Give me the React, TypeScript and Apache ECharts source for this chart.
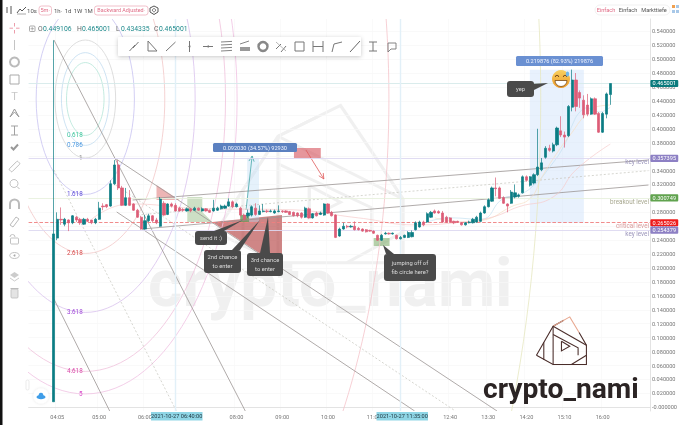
import React, { useEffect, useRef } from "react";
import * as echarts from "echarts";

const opens = [0.008,0.243,0.270,0.263,0.269,0.265,0.273,0.270,0.263,0.270,0.269,0.265,0.270,0.289,0.291,0.289,0.321,0.348,0.315,0.290,0.301,0.292,0.283,0.273,0.256,0.268,0.275,0.269,0.260,0.293,0.277,0.292,0.290,0.286,0.284,0.282,0.285,0.283,0.286,0.282,0.285,0.283,0.282,0.283,0.285,0.286,0.289,0.295,0.288,0.286,0.276,0.275,0.276,0.286,0.277,0.281,0.282,0.281,0.279,0.281,0.282,0.282,0.281,0.280,0.279,0.279,0.273,0.285,0.272,0.279,0.277,0.276,0.292,0.280,0.276,0.246,0.256,0.260,0.259,0.260,0.257,0.256,0.255,0.254,0.253,0.247,0.240,0.249,0.250,0.249,0.247,0.242,0.244,0.244,0.245,0.255,0.259,0.266,0.266,0.273,0.282,0.281,0.279,0.273,0.272,0.267,0.267,0.265,0.262,0.265,0.265,0.266,0.267,0.279,0.288,0.296,0.315,0.315,0.301,0.292,0.293,0.302,0.303,0.308,0.331,0.319,0.322,0.334,0.341,0.359,0.372,0.368,0.377,0.397,0.391,0.390,0.431,0.470,0.452,0.441,0.434,0.421,0.443,0.422,0.395,0.421,0.449106];
const closes = [0.249,0.270,0.269,0.270,0.265,0.275,0.269,0.265,0.270,0.267,0.265,0.270,0.286,0.288,0.288,0.321,0.348,0.315,0.290,0.301,0.290,0.283,0.273,0.256,0.268,0.275,0.268,0.265,0.299,0.276,0.292,0.289,0.282,0.282,0.283,0.285,0.282,0.286,0.283,0.285,0.282,0.280,0.286,0.286,0.289,0.289,0.295,0.288,0.292,0.276,0.270,0.279,0.288,0.277,0.282,0.282,0.281,0.282,0.282,0.282,0.281,0.280,0.277,0.275,0.275,0.273,0.286,0.272,0.278,0.275,0.279,0.292,0.279,0.275,0.244,0.256,0.260,0.259,0.260,0.255,0.255,0.253,0.252,0.253,0.250,0.240,0.247,0.250,0.249,0.250,0.242,0.244,0.247,0.251,0.251,0.265,0.266,0.262,0.278,0.280,0.279,0.279,0.266,0.266,0.266,0.265,0.266,0.262,0.265,0.266,0.270,0.273,0.279,0.288,0.298,0.315,0.314,0.300,0.293,0.289,0.309,0.308,0.305,0.331,0.326,0.331,0.334,0.345,0.351,0.372,0.369,0.377,0.401,0.391,0.388,0.432,0.470,0.432,0.444,0.420,0.421,0.443,0.421,0.395,0.422,0.450,0.465001];
const lows = [0.008,0.240,0.262,0.260,0.253,0.263,0.266,0.262,0.262,0.266,0.263,0.263,0.269,0.283,0.286,0.288,0.319,0.312,0.289,0.289,0.289,0.282,0.272,0.255,0.255,0.266,0.265,0.263,0.259,0.275,0.276,0.287,0.281,0.281,0.281,0.281,0.280,0.282,0.282,0.281,0.281,0.279,0.281,0.282,0.284,0.285,0.288,0.286,0.287,0.274,0.268,0.272,0.274,0.275,0.276,0.280,0.279,0.280,0.278,0.280,0.279,0.279,0.276,0.274,0.273,0.271,0.272,0.271,0.271,0.274,0.276,0.275,0.278,0.274,0.243,0.245,0.255,0.257,0.258,0.254,0.254,0.252,0.251,0.252,0.249,0.239,0.239,0.248,0.248,0.248,0.241,0.241,0.243,0.243,0.244,0.254,0.258,0.260,0.265,0.272,0.278,0.278,0.265,0.265,0.265,0.263,0.265,0.261,0.261,0.264,0.264,0.265,0.266,0.278,0.287,0.295,0.303,0.299,0.292,0.280,0.292,0.300,0.301,0.307,0.324,0.317,0.320,0.332,0.339,0.357,0.367,0.366,0.375,0.388,0.373,0.388,0.425,0.425,0.430,0.415,0.418,0.420,0.420,0.394,0.394,0.415,0.434335];
const highs = [0.527,0.280,0.287,0.272,0.270,0.276,0.275,0.272,0.272,0.272,0.269,0.272,0.295,0.293,0.292,0.326,0.355,0.355,0.318,0.315,0.312,0.293,0.285,0.275,0.276,0.278,0.276,0.272,0.302,0.296,0.293,0.294,0.293,0.288,0.286,0.287,0.286,0.288,0.287,0.287,0.286,0.284,0.298,0.288,0.291,0.291,0.300,0.297,0.294,0.288,0.278,0.284,0.290,0.293,0.290,0.292,0.284,0.284,0.284,0.290,0.283,0.283,0.282,0.281,0.280,0.280,0.288,0.287,0.279,0.281,0.281,0.293,0.293,0.282,0.277,0.258,0.265,0.262,0.262,0.267,0.259,0.257,0.256,0.255,0.254,0.248,0.249,0.252,0.251,0.251,0.248,0.246,0.248,0.253,0.254,0.267,0.268,0.268,0.280,0.282,0.284,0.283,0.282,0.275,0.273,0.268,0.268,0.266,0.266,0.268,0.272,0.275,0.281,0.290,0.300,0.317,0.330,0.317,0.303,0.293,0.312,0.320,0.307,0.333,0.333,0.332,0.336,0.400,0.358,0.375,0.377,0.380,0.403,0.418,0.396,0.434,0.485,0.480,0.455,0.448,0.450,0.445,0.445,0.424,0.424,0.452,0.465001];

const padBefore = 6;
const slotCount = 163;
const shownTimes = ["04:05","05:00","06:00","08:00","09:00","10:00","11:00","12:40","13:30","14:20","15:10","16:00"];
const yTicks = [0,0.02,0.04,0.06,0.08,0.10,0.12,0.14,0.16,0.18,0.20,0.22,0.24,0.26,0.28,0.30,0.32,0.34,0.36,0.38,0.40,0.42,0.44,0.46,0.48,0.50,0.52,0.54];

// faint moving averages, read as [candle number, price]
const maBlue = [[96,0.262],[104,0.272],[112,0.270],[118,0.300],[122,0.305],[126,0.319],[130,0.344],[134,0.377],[136,0.405],[138,0.424],[140,0.430],[143,0.424],[146,0.431]];
const maOrange = [[100,0.272],[108,0.266],[113,0.269],[120,0.288],[125,0.300],[128,0.330],[132,0.365],[136,0.395],[139,0.417],[142,0.431],[146,0.434]];
const maPink = [[10,0.270],[20,0.292],[40,0.285],[60,0.284],[80,0.272],[95,0.262],[107,0.266],[115,0.273],[122,0.288],[131,0.302],[137,0.341],[146,0.378]];

const priceLevels = [
  { value: 0.465001, line: "#d6eaea", tag: "#0b7b7d", type: "solid" },
  { value: 0.357395, line: "#ddd8f0", tag: "#8d80c4", type: "solid" },
  { value: 0.300749, line: "#e8f0de", tag: "#61a34f", type: "solid" },
  { value: 0.265026, line: "#ef7f7f", tag: "#ee1c1c", type: "dashed" },
  { value: 0.254379, line: "#ddd8f0", tag: "#8d80c4", type: "solid" },
];
const markedTimes = ["06:40", "11:35"];

// Fibonacci circles: ratio and colour, on one anchor (slot, price) and unit radii (slots, price)
const fibCentre = [14.36, 0.4427];
const fibUnit = [7.96, 0.0847];
const fibRings = [
  { ratio: 0.618, color: "#b5e6d8", text: "0.618", textColor: "#38c49a" },
  { ratio: 0.786, color: "#c2dcf0", text: "0.786", textColor: "#4a98e0" },
  { ratio: 1, color: "#d6d6d6", text: "1", textColor: "#888888" },
  { ratio: 1.618, color: "#c8c3f1", text: "1.618", textColor: "#5a48d8" },
  { ratio: 2.618, color: "#f2c8c8", text: "2.618", textColor: "#d84848" },
  { ratio: 3.618, color: "#d9c2ee", text: "3.618", textColor: "#a048d8" },
  { ratio: 4.618, color: "#f0c2dc", text: "4.618", textColor: "#d848a8" },
  { ratio: 5, color: "#f0c2e2", text: "5", textColor: "#d848c8" },
  { ratio: 10, color: "#f5c4ca", text: "", textColor: "" },
  { ratio: 15, color: "#e6e7c0", text: "", textColor: "" },
];

// drawn tools: [slot, price, slot, price]
const solidTrends = [
  [6.14,0.5275,56.3,-0.0053],
  [6.14,0.1555,20.76,-0.0053],
  [22.06,0.358,122.3,-0.0053],
  [22.6,0.2805,100.7,-0.0053],
  [26.76,0.2977,162,0.3551],
  [29.4,0.2561,162,0.3192],
];
const dottedTrends = [
  [22.3,0.3192,111.4,-0.0053],
  [6.14,0.3408,38.25,-0.0053],
  [28.06,0.2762,162,0.3398],
];
const areas = [
  { pts: [[33.03,0.3192],[33.03,0.2977],[39.03,0.2977]], fill: "rgba(214,90,90,0.45)" },
  { pts: [[41.1,0.302],[45.04,0.302],[45.04,0.2805],[47.65,0.2661],[41.1,0.2661]], fill: "rgba(130,175,110,0.4)" },
  { pts: [[47.65,0.2661],[65.93,0.2762],[65.93,0.2001]], fill: "rgba(178,60,60,0.62)" },
  { pts: [[69.06,0.3724],[76.1,0.3724],[76.1,0.358],[69.06,0.358]], fill: "rgba(214,80,90,0.6)" },
  { pts: [[56.8,0.3582],[59.9,0.3582],[59.9,0.2662],[56.8,0.2662]], fill: "rgba(190,220,245,0.4)" },
  { pts: [[130.9,0.4849],[145.07,0.4849],[145.07,0.2651],[130.9,0.2651]], fill: "rgba(205,225,250,0.45)" },
  { pts: [[89.95,0.2431],[94.13,0.2431],[94.13,0.2316],[89.95,0.2316]], fill: "rgba(120,170,100,0.55)" },
  { pts: [[54.97,0.2762],[57.3,0.2762],[57.3,0.2661],[54.97,0.2661]], fill: "rgba(110,150,90,0.8)" },
];
const arrows = [
  { from: [56.5,0.2833], to: [58.1,0.3609], color: "#46a8a8" },
  { from: [72.2,0.3695], to: [76.9,0.3279], color: "#e05a5a" },
];

const callouts = [
  { box: [195,231,32,14], tail: [[214,231],[224,231],[243,220]], lines: ["send it :)"] },
  { box: [204,250,37,23], tail: [[232,250],[240,250],[260,220]], lines: ["2nd chance","to enter"] },
  { box: [247,253,36,23], tail: [[260,253],[270,253],[268,217]], lines: ["3rd chance","to enter"] },
  { box: [384,254,52,27], tail: [[386,254],[394,254],[383,245]], lines: ["jumping off of","fib circle here?"] },
  { box: [507,81,27,16], tail: [[530,84],[530,92],[548,83]], lines: ["yep"] },
];
const measureTags = [
  { box: [213,143,84,9], text: "0.092030 (34.57%) 92930", fill: "#5b80c0" },
  { box: [516,56,87,10], text: "0.219876 (82.93%) 219876", fill: "#6a90d2" },
];
const levelTexts = [
  { text: "key level", y: 162, color: "#9a94ba" },
  { text: "breakout level", y: 202, color: "#a8a890" },
  { text: "critical level", y: 226, color: "#d89a9a" },
  { text: "key level", y: 234, color: "#9a94ba" },
];
const FONT = "Roboto";

const logoStrokes = [
  { c: "#4a2d2a", p: [[590,430],[640,343],[672,325]] },
  { c: "#e8a890", p: [[640,343],[690,315],[718,362]] },
  { c: "#4a2d2a", p: [[718,362],[740,400],[740,458],[640,458],[590,430]] },
  { c: "#4a2d2a", p: [[640,343],[640,458]] },
  { c: "#4a2d2a", p: [[612,392],[612,444]] },
  { c: "#4a2d2a", p: [[640,343],[740,400]] },
  { c: "#4a2d2a", p: [[640,368],[715,408],[715,430]] },
  { c: "#4a2d2a", p: [[740,430],[695,458]] },
  { c: "#4a2d2a", p: [[665,388],[690,403],[665,417],[665,388]] },
];

function pl(points: number[][], stroke: string, lineWidth = 1, extra: any = {}) {
  return { type: "polyline", shape: { points }, style: { stroke, lineWidth, fill: "none" }, silent: true, ...extra };
}
function tx(text: string, x: number, y: number, size: number, fill: string, align = "center", extra: any = {}, weight = "normal") {
  return {
    type: "text", x, y, silent: true, ...extra,
    style: { text, fill, fontSize: size, fontFamily: FONT, fontWeight: weight, align, verticalAlign: "middle" },
  };
}
function logoGroup(x: number, y: number, sx: number, sy: number, color: string | null, lw: number, z: number) {
  return {
    type: "group", x, y, scaleX: sx, scaleY: sy, z, silent: true,
    children: logoStrokes.map((s) => pl(s.p, color || s.c, lw, { z })),
  };
}

function chromeElements() {
  const g = "#999999";
  const els: any[] = [];
  const T = 100;
  const add = (e: any) => els.push({ z: T, ...e });
  // window edge
  add({ type: "rect", shape: { x: 0, y: 0, width: 2.5, height: 425 }, style: { fill: "#111111" }, silent: true });
  // header
  add(pl([[7,7],[7,13]], "#555", 1)); add(pl([[11,6],[11,14]], "#555", 1));
  add(pl([[17,13],[20,9],[22,11],[26,7]], "#555", 1)); add(pl([[17,14],[26,14]], "#aaa", 1));
  add(tx("10s", 32, 10, 6, "#555")); 
  add({ type: "rect", shape: { x: 39, y: 6, width: 12.5, height: 9, r: 2.5 }, style: { fill: "#fff", stroke: "#eeb0bc", lineWidth: 0.8 } });
  add(tx("5m·", 45.2, 10, 5.6, "#e06b85"));
  add(tx("1h·", 58, 10, 6, "#555")); add(tx("1d", 68, 10, 6, "#555")); add(tx("1W", 78, 10, 6, "#555")); add(tx("1M", 88.5, 10, 6, "#555"));
  add({ type: "rect", shape: { x: 94.5, y: 6, width: 53.5, height: 9, r: 2.5 }, style: { fill: "#fff", stroke: "#eeb0bc", lineWidth: 0.8 } });
  add(tx("Backward Adjusted·", 121.2, 10, 5.4, "#e06b85"));
  add({ type: "polygon", shape: { points: [[150,8],[154,6],[158,8],[158,12],[154,14.5],[150,12]] }, style: { fill: "none", stroke: "#555", lineWidth: 1 } });
  add({ type: "circle", shape: { cx: 154, cy: 10.2, r: 1.6 }, style: { fill: "none", stroke: "#555", lineWidth: 0.8 } });
  // top right switch
  add({ type: "rect", shape: { x: 595, y: 5, width: 75, height: 10, r: 5 }, style: { fill: "#fff", stroke: "#eeeeee", lineWidth: 0.8 } });
  add(tx("Einfach", 606, 9.6, 5.6, "#e06b85")); add(tx("Einfach", 628, 9.6, 5.6, "#555")); add(tx("Markttiefe", 654, 9.6, 5.6, "#555"));
  add({ type: "rect", shape: { x: 672, y: 5, width: 3, height: 3 }, style: { fill: "#f0a050" } });
  add({ type: "rect", shape: { x: 676, y: 5, width: 3, height: 3 }, style: { fill: "#a8c8e8" } });
  add({ type: "rect", shape: { x: 672, y: 10, width: 3, height: 3 }, style: { fill: "#a8c8e8" } });
  add({ type: "rect", shape: { x: 676, y: 10, width: 3, height: 3 }, style: { fill: "#a8c8e8" } });
  // OHLC line
  add({ type: "rect", shape: { x: 29.5, y: 26, width: 5.5, height: 5.5, r: 1 }, style: { fill: "#fff", stroke: "#888", lineWidth: 0.7 } });
  add(pl([[32.2,27],[32.2,30.5]], "#888", 0.6)); add(pl([[30.5,28.7],[34,28.7]], "#888", 0.6));
  [["O","0.449106",38],["H","0.465001",77],["L","0.434335",116],["C","0.465001",154]].forEach((o: any) => {
    add(tx(o[0], o[2], 28.8, 6.8, "#666", "left"));
    add(tx(o[1], o[2] + 5, 28.8, 6.8, "#1f8a8c", "left"));
  });
  // left tools
  add(pl([[14.5,23],[14.5,26.5]], "#ec9dab", 1)); add(pl([[14.5,30],[14.5,33.5]], "#ec9dab", 1));
  add(pl([[9.5,28.2],[13,28.2]], "#ec9dab", 1)); add(pl([[16,28.2],[19.5,28.2]], "#ec9dab", 1));
  add(pl([[14.5,40],[14.5,50]], "#c4c4c4", 1));
  add({ type: "circle", shape: { cx: 14.5, cy: 62, r: 4.5 }, style: { fill: "none", stroke: "#bbb", lineWidth: 2 } });
  add({ type: "rect", shape: { x: 10, y: 75, width: 9, height: 9 }, style: { fill: "none", stroke: "#aaa", lineWidth: 1 } });
  add(tx("T", 14.5, 96.5, 11, "#c8c8c8"));
  add(pl([[10,117],[14.5,109],[19,117],[14.5,112],[10,117]], g, 1));
  add(pl([[11,126],[18,126]], g, 0.9)); add(pl([[14.5,126],[14.5,135]], g, 0.9)); add(pl([[11,135],[18,135]], g, 0.9));
  add(pl([[11,147],[13.5,149.5],[18,144.5]], "#999", 2));
  add({ type: "rect", x: 14.5, y: 166.5, rotation: Math.PI / 4, originX: 0, originY: 0, shape: { x: -6, y: -2, width: 12, height: 4, r: 1 }, style: { fill: "none", stroke: "#bbb", lineWidth: 0.9 } });
  add({ type: "circle", shape: { cx: 14, cy: 183.5, r: 4 }, style: { fill: "none", stroke: "#bbb", lineWidth: 0.9 } });
  add(pl([[17,186.5],[19.5,189]], "#bbb", 1));
  add({ type: "arc", shape: { cx: 14.5, cy: 204, r: 4.5, startAngle: Math.PI, endAngle: 0, clockwise: true }, style: { fill: "none", stroke: "#bbb", lineWidth: 2 } });
  add(pl([[10,204],[10,209]], "#bbb", 2)); add(pl([[19,204],[19,209]], "#bbb", 2));
  add(pl([[10,225],[16,217],[19,219],[13,227],[10,225]], "#bbb", 1));
  add({ type: "rect", shape: { x: 10.5, y: 238, width: 8, height: 6, r: 1 }, style: { fill: "none", stroke: "#bbb", lineWidth: 0.9 } });
  add({ type: "arc", shape: { cx: 12.5, cy: 237, r: 2.5, startAngle: Math.PI, endAngle: 0, clockwise: true }, style: { fill: "none", stroke: "#bbb", lineWidth: 0.9 } });
  add({ type: "ellipse", shape: { cx: 14.5, cy: 255.5, rx: 4.8, ry: 3 }, style: { fill: "none", stroke: "#bbb", lineWidth: 0.9 } });
  add({ type: "circle", shape: { cx: 14.5, cy: 255.5, r: 1 }, style: { fill: "#aaa" } });
  add({ type: "polygon", shape: { points: [[14.5,272],[19,275],[14.5,278],[10,275]] }, style: { fill: "#ccc" } });
  add(pl([[10,278],[14.5,281],[19,278]], "#ccc", 1));
  add({ type: "rect", shape: { x: 11, y: 289, width: 7, height: 9, r: 1 }, style: { fill: "#e4e4e4", stroke: "#bbb", lineWidth: 0.8 } });
  add(pl([[10.5,288.5],[18.5,288.5]], "#bbb", 1));
  add({ type: "rect", shape: { x: 26, y: 380, width: 3, height: 10, r: 1.5 }, style: { fill: "#fff", stroke: "#ddd", lineWidth: 0.6 } });
  // cloud badge
  add({ type: "circle", shape: { cx: 41, cy: 396, r: 7.5 }, style: { fill: "#fff", shadowBlur: 3, shadowColor: "rgba(0,0,0,0.12)" } });
  add({ type: "ellipse", shape: { cx: 41, cy: 397, rx: 4.5, ry: 2.3 }, style: { fill: "#3f9de8" } });
  add({ type: "circle", shape: { cx: 41, cy: 395, r: 2.3 }, style: { fill: "#3f9de8" } });
  // drawing toolbar
  add({ type: "rect", shape: { x: 118, y: 37, width: 243, height: 19, r: 1 }, style: { fill: "#fff", shadowBlur: 4, shadowColor: "rgba(0,0,0,0.22)", shadowOffsetY: 1 } });
  const c = 46.5;
  add(pl([[129.5,51],[135,45]], "#777", 1)); add(pl([[133,48],[138.5,42]], "#777", 1));
  add(pl([[148,41],[148,51],[157,51],[148,41]], "#777", 1));
  add(pl([[166,51],[175.5,42]], "#777", 1));
  add(pl([[189.5,41],[189.5,52]], "#777", 1)); add({ type: "circle", shape: { cx: 189.5, cy: c, r: 1 }, style: { fill: "#777" } });
  add(pl([[203,c],[213,c]], "#777", 1)); add({ type: "circle", shape: { cx: 208, cy: c, r: 1 }, style: { fill: "#777" } });
  [42,45,48,51].forEach((y) => add(pl([[221,y],[232,y - 0.6]], "#777", 0.9)));
  add(pl([[240,44],[249,41]], "#777", 0.9)); add({ type: "rect", shape: { x: 240, y: 47, width: 10, height: 4 }, style: { fill: "#999" } });
  add({ type: "circle", shape: { cx: 263, cy: c, r: 4.5 }, style: { fill: "none", stroke: "#888", lineWidth: 2.4 } });
  add(pl([[276,49],[281,44]], "#777", 1)); add(pl([[281,52],[286,46]], "#777", 1)); add(pl([[276,42],[286,51]], "#999", 0.7));
  add({ type: "rect", shape: { x: 295, y: 42, width: 9, height: 9 }, style: { fill: "none", stroke: "#777", lineWidth: 1 } });
  add(pl([[313,41],[313,52]], "#777", 1)); add(pl([[323,41],[323,52]], "#777", 1)); add(pl([[313,46.5],[323,46.5]], "#777", 1));
  add(pl([[332,52],[334,44],[342,42]], "#777", 1));
  add(pl([[350,52],[360,41]], "#666", 1));
  add(pl([[369,42],[377,42]], "#777", 1)); add(pl([[373,42],[373,51]], "#777", 1)); add(pl([[369,51],[377,51]], "#777", 1));
  add(pl([[388,43],[396,43],[396,49],[391,49],[388,52],[388,43]], "#777", 0.9));
  // date tags
  [[151,414,"2021-10-27 06:40:00"],[376.5,414,"2021-10-27 11:35:00"]].forEach((d: any) => {
    add({ type: "rect", shape: { x: d[0], y: 412, width: 51.5, height: 8.5 }, style: { fill: "#8fd6e6" } });
    add(tx(d[2], d[0] + 25.7, 416.3, 5.6, "#223a44"));
  });
  // measure tags
  measureTags.forEach((m) => {
    add({ type: "rect", shape: { x: m.box[0], y: m.box[1], width: m.box[2], height: m.box[3], r: 1.5 }, style: { fill: m.fill } });
    add(tx(m.text, m.box[0] + m.box[2] / 2, m.box[1] + m.box[3] / 2 + 0.3, 5.6, "#f0f4ff"));
  });
  // callouts
  callouts.forEach((k) => {
    add({ type: "polygon", shape: { points: k.tail }, style: { fill: "#4a4a4a" } });
    add({ type: "rect", shape: { x: k.box[0], y: k.box[1], width: k.box[2], height: k.box[3], r: 3 }, style: { fill: "#4a4a4a" } });
    k.lines.forEach((s, i) => {
      const n = k.lines.length;
      add(tx(s, k.box[0] + k.box[2] / 2, k.box[1] + k.box[3] / 2 + (i - (n - 1) / 2) * 9.7, 5.8, "#dcdcdc"));
    });
  });
  // emoji
  add({ type: "circle", shape: { cx: 561, cy: 79, r: 9 }, style: { fill: new echarts.graphic.LinearGradient(0, 0, 0, 1, [{ offset: 0, color: "#f8d060" }, { offset: 1, color: "#ee9a28" }]) } });
  add({ type: "sector", shape: { cx: 561, cy: 80.5, r: 6, r0: 0, startAngle: 0, endAngle: Math.PI }, style: { fill: "#fff", stroke: "#7a4a18", lineWidth: 0.8 } });
  add({ type: "arc", shape: { cx: 557, cy: 77, r: 1.7, startAngle: Math.PI, endAngle: 0, clockwise: true }, style: { fill: "none", stroke: "#6a4018", lineWidth: 0.9 } });
  add({ type: "arc", shape: { cx: 565, cy: 77, r: 1.7, startAngle: Math.PI, endAngle: 0, clockwise: true }, style: { fill: "none", stroke: "#6a4018", lineWidth: 0.9 } });
  add({ type: "ellipse", shape: { cx: 567.5, cy: 74, rx: 1.7, ry: 2.6 }, style: { fill: "#6fb8ea" } });
  // level names
  levelTexts.forEach((l) => add(tx(l.text, 649, l.y, 6.3, l.color, "right")));
  // brand
  els.push(logoGroup(340, 212, 1 / 3, 1 / 3, null, 3.2, T));
  add(tx("crypto_nami", 483, 388, 28.2, "#2b2424", "left", {}, "bold"));
  // watermark
  els.push(tx("crypto_nami", 148, 283, 66, "#f0f0f0", "left", { z: -1 }, "bold"));
  els.push(logoGroup(-522, -241, 1.25, 1.1, "#f0f0f0", 2.6, -1));
  return els;
}

export default function App() {
  const ref = useRef<HTMLDivElement>(null);
  useEffect(() => {
    document.body.style.margin = "0";
    const chart = echarts.init(ref.current!, null, { renderer: "svg" });

    const categories = Array.from({ length: slotCount }, (_, k) => {
      const m = 3 * 60 + 30 + k * 5;
      return `${String(Math.floor(m / 60)).padStart(2, "0")}:${String(m % 60).padStart(2, "0")}`;
    });
    const candleData = categories.map((_, k) => {
      const i = k - padBefore;
      return i >= 0 && i < opens.length ? [opens[i], closes[i], lows[i], highs[i]] : ["-", "-", "-", "-"];
    });
    const showTime = (_: number, v: string) => shownTimes.includes(v);
    const maSeries = (pts: number[][], color: string) => ({
      type: "line", data: pts.map((p) => [p[0] + padBefore, p[1]]), showSymbol: false, smooth: true, silent: true, z: 1,
      lineStyle: { color, width: 0.7 },
    });

    const renderDrawings = (_: any, api: any) => {
      const x0 = api.coord([0, 0.1])[0];
      const band = api.coord([1, 0.1])[0] - x0;
      const P = (s: number, p: number) => [x0 + band * s, api.coord([0, p])[1]];
      const kids: any[] = [];
      const c = P(fibCentre[0], fibCentre[1]);
      const u = P(fibCentre[0] + fibUnit[0], fibCentre[1] - fibUnit[1]);
      const rxU = u[0] - c[0];
      const ryU = u[1] - c[1];
      areas.forEach((a) => kids.push({ type: "polygon", shape: { points: a.pts.map((q) => P(q[0], q[1])) }, style: { fill: a.fill } }));
      fibRings.forEach((r) => {
        kids.push({ type: "ellipse", shape: { cx: c[0], cy: c[1], rx: rxU * r.ratio, ry: ryU * r.ratio }, style: { fill: "none", stroke: r.color, lineWidth: 0.8 } });
        if (r.text) {
          kids.push({
            type: "text", x: r.text.length > 1 ? c[0] - 10.5 : c[0] - 4.5, y: c[1] + ryU * r.ratio,
            style: { text: r.text, fill: r.textColor, fontSize: 6.3, fontFamily: FONT, align: "center", verticalAlign: "middle" },
          });
        }
      });
      solidTrends.forEach((t) => kids.push({ type: "line", shape: { x1: P(t[0], t[1])[0], y1: P(t[0], t[1])[1], x2: P(t[2], t[3])[0], y2: P(t[2], t[3])[1] }, style: { stroke: "#9c9694", lineWidth: 0.8 } }));
      dottedTrends.forEach((t) => kids.push({ type: "line", shape: { x1: P(t[0], t[1])[0], y1: P(t[0], t[1])[1], x2: P(t[2], t[3])[0], y2: P(t[2], t[3])[1] }, style: { stroke: "#c4c4bc", lineWidth: 0.7, lineDash: [2, 2] } }));
      arrows.forEach((ar) => {
        const a = P(ar.from[0], ar.from[1]);
        const b = P(ar.to[0], ar.to[1]);
        const ang = Math.atan2(b[1] - a[1], b[0] - a[0]);
        const h = 6;
        const w1 = [b[0] - h * Math.cos(ang - 0.45), b[1] - h * Math.sin(ang - 0.45)];
        const w2 = [b[0] - h * Math.cos(ang + 0.45), b[1] - h * Math.sin(ang + 0.45)];
        kids.push({ type: "line", shape: { x1: a[0], y1: a[1], x2: b[0], y2: b[1] }, style: { stroke: ar.color, lineWidth: 0.8 } });
        kids.push({ type: "polyline", shape: { points: [w1, b, w2] }, style: { stroke: ar.color, fill: "none", lineWidth: 0.8 } });
      });
      return { type: "group", children: kids };
    };

    chart.setOption({
      animation: false,
      backgroundColor: "#ffffff",
      grid: { left: 28.6, top: 19, width: 624.3, height: 392 },
      xAxis: {
        type: "category", data: categories, boundaryGap: true,
        axisLine: { lineStyle: { color: "#dddddd", width: 0.8 } },
        axisTick: { show: false },
        axisLabel: { interval: showTime, color: "#777777", fontSize: 5.6, fontFamily: FONT, margin: 3 },
        splitLine: { show: true, interval: showTime, lineStyle: { color: "#f8f8f8", width: 0.7 } },
      },
      yAxis: {
        type: "value", position: "right", min: -0.0053, max: 0.5576, scale: true,
        axisLine: { show: true, lineStyle: { color: "#dddddd", width: 0.8 } },
        axisTick: { show: false, customValues: yTicks },
        axisLabel: {
          customValues: yTicks, color: "#777777", fontSize: 5.6, fontFamily: FONT, margin: 1.6,
          formatter: (v: number) => (v === 0 ? "-0.000000" : v.toFixed(6)),
        },
        splitLine: { show: true, lineStyle: { color: "#f7f7f7", width: 0.7 } },
      },
      series: [
        { type: "custom", data: [[0, 0.1]], renderItem: renderDrawings, clip: true, silent: true, z: 1 },
        maSeries(maBlue, "#c4e1f1"),
        maSeries(maOrange, "#f7dfc4"),
        maSeries(maPink, "#f6cccc"),
        {
          type: "candlestick", data: candleData, barWidth: 2.7, z: 3, silent: true,
          itemStyle: { color: "#0b7d84", color0: "#dc5d77", borderColor: "#0b7d84", borderColor0: "#dc5d77", borderWidth: 0.7 },
          markLine: {
            silent: true, symbol: "none", animation: false, z: 2, precision: 6,
            data: [
              ...priceLevels.map((l) => ({
                yAxis: l.value,
                lineStyle: { color: l.line, width: 0.9, type: l.type },
                label: {
                  show: true, position: "end", distance: 0, formatter: () => l.value.toFixed(6),
                  backgroundColor: l.tag, color: "#fff", fontSize: 5.6, fontFamily: FONT, padding: [0.6, 2.2], borderRadius: 1,
                },
              })),
              ...markedTimes.map((t) => ({
                xAxis: t,
                lineStyle: { color: "#e2f0f8", width: 1.4, type: "solid" },
                label: { show: false },
              })),
            ],
          },
        },
      ],
      graphic: { elements: chromeElements() },
    });
    return () => chart.dispose();
  }, []);
  return <div ref={ref} style={{ position: "absolute", left: 0, top: 0, width: 680, height: 425, filter: "blur(0.35px)" }} />;
}
